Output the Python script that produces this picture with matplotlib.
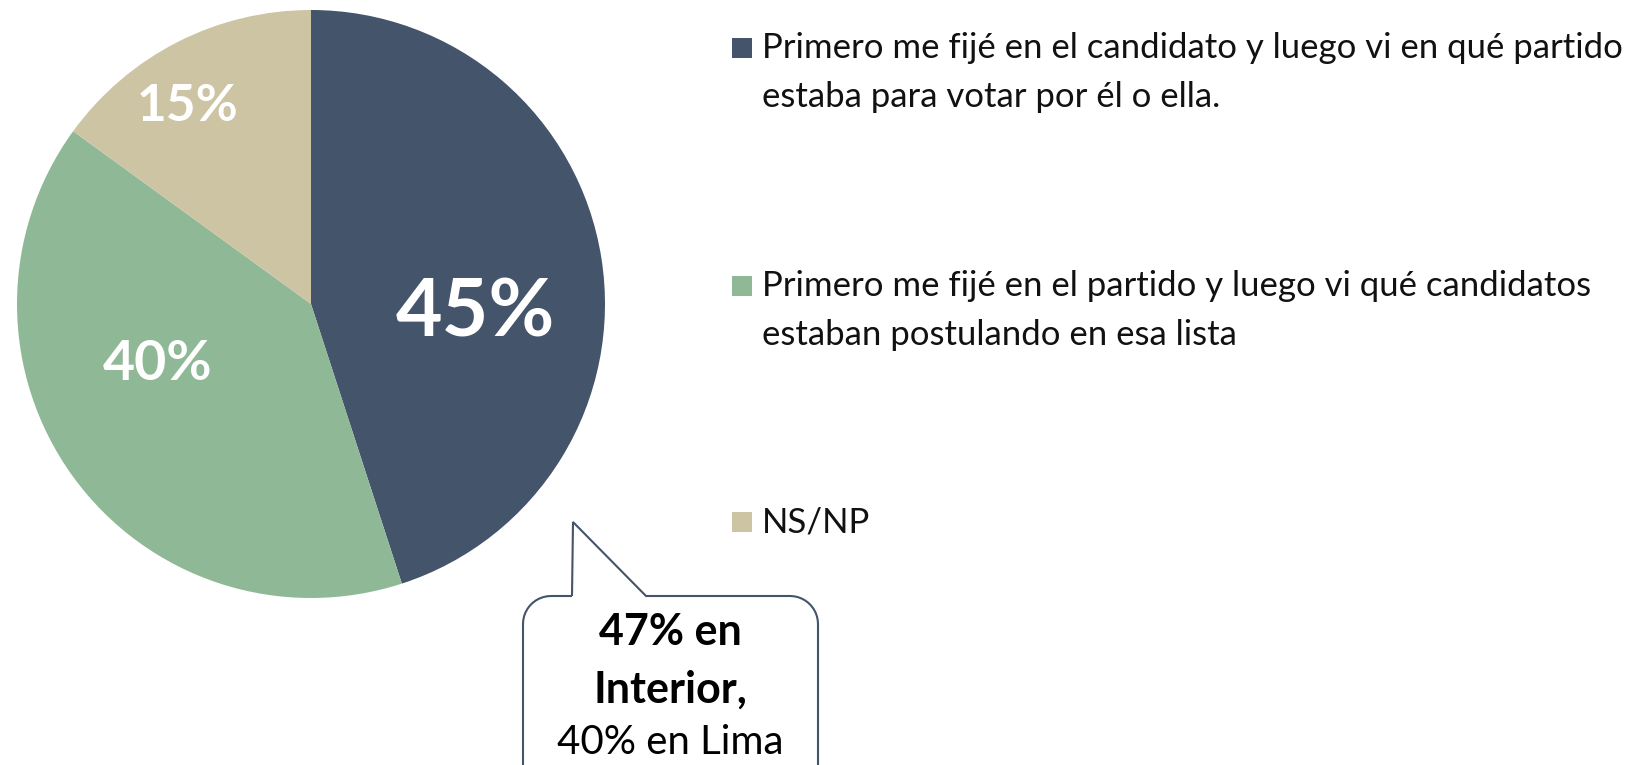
import numpy as np
import matplotlib
matplotlib.use("Agg")
import matplotlib.pyplot as plt
from matplotlib.patches import Rectangle, PathPatch
from matplotlib.path import Path

W, H = 1632, 765
FONT = ["Lato", "DejaVu Sans"]

VALUES = [45, 40, 15]
PCT_LABELS = ["45%", "40%", "15%"]
LEGEND_LABELS = [
    "Primero me fijé en el candidato y luego vi en qué partido\nestaba para votar por él o ella.",
    "Primero me fijé en el partido y luego vi qué candidatos\nestaban postulando en esa lista",
    "NS/NP",
]
COLORS = ["#44546A", "#8FB996", "#CDC4A3"]
CALLOUT = [("47% en", "bold", 31), ("Interior,", "bold", 31), ("40% en Lima", "normal", 29)]

plt.rcParams["font.family"] = FONT

fig = plt.figure(figsize=(W / 100, H / 100), dpi=100)
ax = fig.add_axes([0, 0, 1, 1])


def Y(y):
    # coordenadas en pixeles desde arriba
    return H - y


# pastel
cx, cy, r = 311, 304, 294
wedges, _ = ax.pie(VALUES, colors=COLORS, startangle=90, counterclock=False,
                   center=(cx, Y(cy)), radius=r, wedgeprops=dict(linewidth=0))
ax.set_xlim(0, W)
ax.set_ylim(0, H)
ax.set_aspect("equal")
ax.axis("off")

# etiquetas dentro del pastel
lab_pos = [(475, 313, 58), (158, 364, 40), (188, 106, 37)]
for txt, (x, y, fs) in zip(PCT_LABELS, lab_pos):
    ax.text(x, Y(y), txt, color="white", fontsize=fs, fontweight="bold",
            ha="center", va="center")

# leyenda (cuadro alineado con la línea base de la primera línea)
baselines = [58, 296, 532]
for lab, col, b in zip(LEGEND_LABELS, COLORS, baselines):
    ax.add_patch(Rectangle((732, Y(b)), 20, 20, facecolor=col, edgecolor="none"))
    for i, line in enumerate(lab.split("\n")):
        ax.text(762, Y(b + i * 49), line, fontsize=25, color="#111111",
                ha="left", va="baseline")

# globo de texto
L, R, T, B, rc = 523, 818, 596, 820, 28
px0, px1, tip = 572, 646, (573, 522)
pts = [(px0, T), tip, (px1, T), (R - rc, T)]
for a in np.linspace(90, 0, 12)[1:]:
    pts.append((R - rc + rc * np.cos(np.radians(a)), T + rc - rc * np.sin(np.radians(a))))
pts += [(R, B), (L, B), (L, T + rc)]
for a in np.linspace(180, 90, 12)[1:]:
    pts.append((L + rc + rc * np.cos(np.radians(a)), T + rc - rc * np.sin(np.radians(a))))
pts.append((px0, T))
verts = [(x, Y(y)) for x, y in pts]
ax.add_patch(PathPatch(Path(verts), facecolor="white", edgecolor="#44546A", lw=1.5,
                       clip_on=False))

for (txt, wt, fs), y in zip(CALLOUT, [632, 690, 742]):
    ax.text(670, Y(y), txt, fontsize=fs, fontweight=wt, color="black",
            ha="center", va="center")

fig.savefig("out.png", dpi=100, facecolor="white")
